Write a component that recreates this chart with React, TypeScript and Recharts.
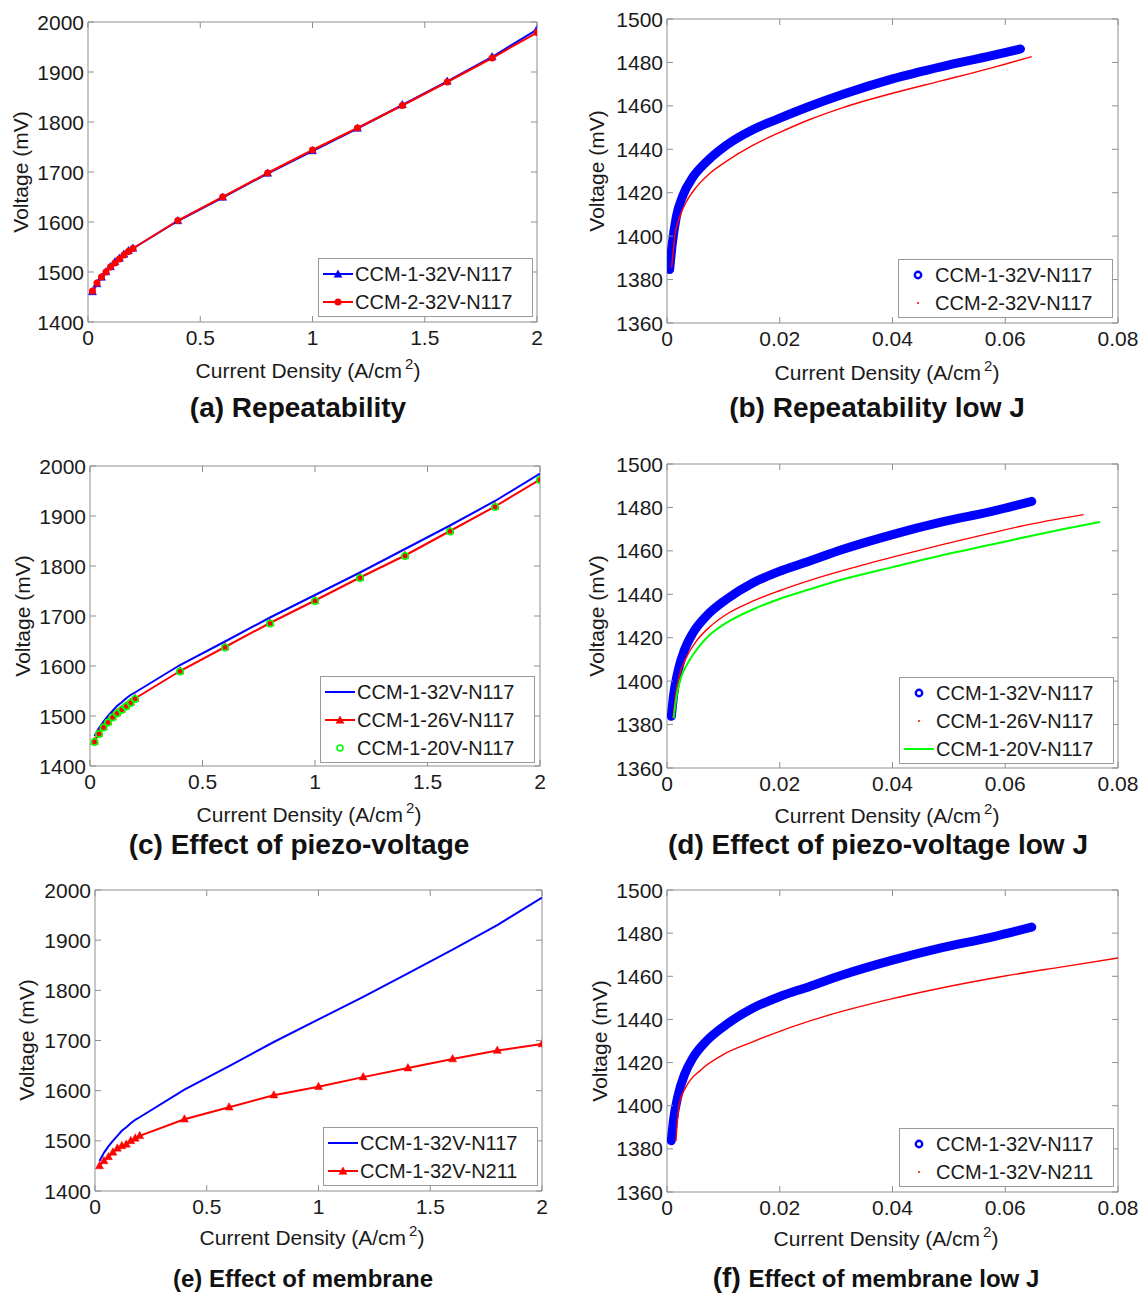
import React from 'react';
import { ComposedChart, Line, XAxis, YAxis, ReferenceArea, Legend } from 'recharts';

const FONT = '"Liberation Sans", Arial, Helvetica, sans-serif';
const AXIS = '#8f8f8f';
const TXT = '#1a1a1a';
const BLUE = '#0000ff';
const RED = '#ff0000';
const GREEN = '#00ff00';

// ---------- high current density data (A/cm2, mV) ----------
const J_HIGH = [0.02, 0.04, 0.06, 0.08, 0.1, 0.12, 0.14, 0.16, 0.18, 0.2, 0.4, 0.6, 0.8, 1.0, 1.2, 1.4, 1.6, 1.8, 2.0];
const V_CCM1_32V_N117 = [1460, 1476, 1489, 1500, 1510, 1520, 1527, 1535, 1542, 1547, 1602, 1649, 1697, 1742, 1787, 1834, 1881, 1930, 1985];
const V_CCM2_32V_N117 = [1462, 1478, 1490, 1500, 1510, 1518, 1526, 1534, 1541, 1547, 1603, 1650, 1698, 1744, 1788, 1833, 1880, 1928, 1979];
const V_CCM1_26V_N117 = [1449, 1465, 1478, 1488, 1498, 1506, 1513, 1520, 1527, 1535, 1590, 1638, 1686, 1731, 1777, 1821, 1870, 1919, 1973];
const V_CCM1_20V_N117 = [1448, 1464, 1477, 1487, 1497, 1505, 1512, 1519, 1526, 1534, 1589, 1637, 1685, 1730, 1776, 1820, 1869, 1918, 1972];
const V_CCM1_32V_N211 = [1450, 1460, 1468, 1477, 1485, 1490, 1493, 1500, 1505, 1510, 1543, 1567, 1591, 1608, 1627, 1645, 1663, 1680, 1693];

// ---------- low current density data ----------
// (b) Repeatability low J
const J_B_CCM1 = [0.00047, 0.00094, 0.00165, 0.00283, 0.0046, 0.00695, 0.0105, 0.0152, 0.0197, 0.0252, 0.0311, 0.04, 0.0488, 0.0576, 0.0627];
const V_B_CCM1 = [1384.6, 1396.6, 1408.8, 1418.8, 1427.2, 1434.1, 1441.8, 1449, 1454, 1459.7, 1465.2, 1472.4, 1478.1, 1483.1, 1486.2];
const J_B_CCM2 = [0.00083, 0.00136, 0.00224, 0.0034, 0.0052, 0.0075, 0.0105, 0.0152, 0.0197, 0.0252, 0.0311, 0.04, 0.0488, 0.0576, 0.0647];
const V_B_CCM2 = [1385.5, 1399.6, 1408.8, 1415.7, 1422.6, 1428.7, 1434.4, 1441.8, 1447.4, 1453.6, 1459.1, 1465.8, 1471.6, 1477.5, 1482.7];
// (d) and (f): CCM-1-32V-N117 low J
const J_LOW_32V_N117 = [0.00077, 0.00118, 0.00195, 0.00312, 0.0046, 0.00695, 0.0105, 0.0152, 0.0197, 0.0252, 0.0311, 0.04, 0.0488, 0.0576, 0.0647];
const V_LOW_32V_N117 = [1383.8, 1393.8, 1404.6, 1414.5, 1422.2, 1429.9, 1437.6, 1445.2, 1450.3, 1455.2, 1460.6, 1467.5, 1473.3, 1478.2, 1482.8];
// (d) Effect of piezo-voltage low J
const J_D_26V = [0.00106, 0.00153, 0.00224, 0.0034, 0.0052, 0.0075, 0.0105, 0.0152, 0.0197, 0.0252, 0.0311, 0.04, 0.0488, 0.0576, 0.0647, 0.0739];
const V_D_26V = [1383.1, 1393.8, 1403, 1410.7, 1418.4, 1424.8, 1430.7, 1436.8, 1441.4, 1446.3, 1450.9, 1457.1, 1462.9, 1468.3, 1472.4, 1476.7];
const J_D_20V = [0.00118, 0.00165, 0.00236, 0.00371, 0.0055, 0.0075, 0.0105, 0.0152, 0.0197, 0.0252, 0.0311, 0.04, 0.0488, 0.0576, 0.0647, 0.0768];
const V_D_20V = [1382.8, 1392.3, 1400.7, 1408.4, 1415.3, 1421.1, 1426.8, 1433, 1437.6, 1442.2, 1446.8, 1452.5, 1458, 1462.9, 1467, 1473.3];
// (f) Effect of membrane low J
const J_F_N211 = [0.0016, 0.0018, 0.0022, 0.0034, 0.006, 0.0099, 0.0151, 0.02, 0.0281, 0.0398, 0.0476, 0.0597, 0.0704, 0.08];
const V_F_N211 = [1383.7, 1391.8, 1401.1, 1408.8, 1416.6, 1423.6, 1429.5, 1434.5, 1441.5, 1449.5, 1454, 1460, 1464.5, 1468.5];

// ---------- axes ticks ----------
const X_TICKS_HIGH = [0, 0.5, 1, 1.5, 2];
const Y_TICKS_HIGH = [1400, 1500, 1600, 1700, 1800, 1900, 2000];
const X_TICKS_LOW = [0, 0.02, 0.04, 0.06, 0.08];
const Y_TICKS_LOW = [1360, 1380, 1400, 1420, 1440, 1460, 1480, 1500];

type Pt = { j: number; v: number };
const zip = (j: number[], v: number[]): Pt[] => j.map((x, i) => ({ j: x, v: v[i] }));

type Kind = 'line' | 'lineTri' | 'lineDot' | 'ring' | 'band' | 'thin';
type Series = { name: string; pts: Pt[]; color: string; kind: Kind };
type TitleSeg = { text: string; size: number };
type PanelCfg = {
  id: string;
  box: [number, number, number, number];
  plot: [number, number, number, number];
  xDomain: [number, number];
  xTicks: number[];
  yDomain: [number, number];
  yTicks: number[];
  series: Series[];
  title: TitleSeg[];
  titlePos: [number, number];
  xLabelPos: [number, number];
  yLabelPos: [number, number];
  legend: [number, number, number, number];
  smooth: boolean;
};

const PANELS: PanelCfg[] = [
  {
    id: 'a', box: [0, 0, 572, 435], plot: [88, 22, 537, 322],
    xDomain: [0, 2], xTicks: X_TICKS_HIGH, yDomain: [1400, 2000], yTicks: Y_TICKS_HIGH,
    series: [
      { name: 'CCM-1-32V-N117', pts: zip(J_HIGH, V_CCM1_32V_N117), color: BLUE, kind: 'lineTri' },
      { name: 'CCM-2-32V-N117', pts: zip(J_HIGH, V_CCM2_32V_N117), color: RED, kind: 'lineDot' },
    ],
    title: [{ text: '(a) Repeatability', size: 28 }], titlePos: [298, 417],
    xLabelPos: [308, 378], yLabelPos: [20, 172], legend: [318, 258, 215, 59], smooth: false,
  },
  {
    id: 'b', box: [573, 0, 572, 435], plot: [667, 19, 1118, 323],
    xDomain: [0, 0.08], xTicks: X_TICKS_LOW, yDomain: [1360, 1500], yTicks: Y_TICKS_LOW,
    series: [
      { name: 'CCM-1-32V-N117', pts: zip(J_B_CCM1, V_B_CCM1), color: BLUE, kind: 'band' },
      { name: 'CCM-2-32V-N117', pts: zip(J_B_CCM2, V_B_CCM2), color: RED, kind: 'thin' },
    ],
    title: [{ text: '(b) Repeatability low J', size: 28 }], titlePos: [877, 417],
    xLabelPos: [887, 380], yLabelPos: [596, 171], legend: [898, 259, 215, 59], smooth: true,
  },
  {
    id: 'c', box: [0, 440, 572, 430], plot: [90, 466, 540, 766],
    xDomain: [0, 2], xTicks: X_TICKS_HIGH, yDomain: [1400, 2000], yTicks: Y_TICKS_HIGH,
    series: [
      { name: 'CCM-1-32V-N117', pts: zip(J_HIGH, V_CCM1_32V_N117), color: BLUE, kind: 'line' },
      { name: 'CCM-1-26V-N117', pts: zip(J_HIGH, V_CCM1_26V_N117), color: RED, kind: 'lineTri' },
      { name: 'CCM-1-20V-N117', pts: zip(J_HIGH, V_CCM1_20V_N117), color: GREEN, kind: 'ring' },
    ],
    title: [{ text: '(c) Effect of piezo-voltage', size: 28 }], titlePos: [299, 854],
    xLabelPos: [309, 822], yLabelPos: [22, 616], legend: [320, 676, 215, 87], smooth: false,
  },
  {
    id: 'd', box: [573, 440, 572, 430], plot: [667, 464, 1118, 768],
    xDomain: [0, 0.08], xTicks: X_TICKS_LOW, yDomain: [1360, 1500], yTicks: Y_TICKS_LOW,
    series: [
      { name: 'CCM-1-32V-N117', pts: zip(J_LOW_32V_N117, V_LOW_32V_N117), color: BLUE, kind: 'band' },
      { name: 'CCM-1-26V-N117', pts: zip(J_D_26V, V_D_26V), color: RED, kind: 'thin' },
      { name: 'CCM-1-20V-N117', pts: zip(J_D_20V, V_D_20V), color: GREEN, kind: 'line' },
    ],
    title: [{ text: '(d) Effect of piezo-voltage low J', size: 28 }], titlePos: [878, 854],
    xLabelPos: [887, 823], yLabelPos: [596, 616], legend: [899, 677, 215, 87], smooth: true,
  },
  {
    id: 'e', box: [0, 870, 572, 425], plot: [95, 890, 542, 1191],
    xDomain: [0, 2], xTicks: X_TICKS_HIGH, yDomain: [1400, 2000], yTicks: Y_TICKS_HIGH,
    series: [
      { name: 'CCM-1-32V-N117', pts: zip(J_HIGH, V_CCM1_32V_N117), color: BLUE, kind: 'line' },
      { name: 'CCM-1-32V-N211', pts: zip(J_HIGH, V_CCM1_32V_N211), color: RED, kind: 'lineTri' },
    ],
    title: [{ text: '(e) Effect of membrane', size: 24 }], titlePos: [303, 1287],
    xLabelPos: [312, 1245], yLabelPos: [26, 1040], legend: [323, 1127, 215, 59], smooth: false,
  },
  {
    id: 'f', box: [573, 870, 572, 425], plot: [667, 890, 1118, 1192],
    xDomain: [0, 0.08], xTicks: X_TICKS_LOW, yDomain: [1360, 1500], yTicks: Y_TICKS_LOW,
    series: [
      { name: 'CCM-1-32V-N117', pts: zip(J_LOW_32V_N117, V_LOW_32V_N117), color: BLUE, kind: 'band' },
      { name: 'CCM-1-32V-N211', pts: zip(J_F_N211, V_F_N211), color: RED, kind: 'thin' },
    ],
    title: [{ text: '(f) ', size: 28 }, { text: 'Effect of membrane low J', size: 24 }], titlePos: [876, 1287],
    xLabelPos: [886, 1246], yLabelPos: [599, 1041], legend: [899, 1128, 215, 59], smooth: true,
  },
];

const tri = (cx: number, cy: number, color: string, key?: any) => (
  <polygon key={key} points={`${cx},${cy - 4.5} ${cx - 4},${cy + 2.8} ${cx + 4},${cy + 2.8}`} fill={color} stroke={color} strokeWidth={0.5} />
);

const LegendIcon = ({ s }: { s: Series }) => {
  const c = s.color;
  return (
    <svg width={36} height={28} style={{ flex: '0 0 36px' }}>
      {(s.kind === 'line' || s.kind === 'lineTri' || s.kind === 'lineDot') && (
        <line x1={4} x2={34} y1={14} y2={14} stroke={c} strokeWidth={2} />
      )}
      {s.kind === 'lineTri' && tri(19, 14.5, c)}
      {s.kind === 'lineDot' && <circle cx={19} cy={14} r={3.5} fill={c} />}
      {s.kind === 'ring' && <circle cx={19} cy={14} r={3} fill="none" stroke={c} strokeWidth={1.6} />}
      {s.kind === 'band' && <circle cx={19} cy={14} r={3.2} fill="none" stroke={c} strokeWidth={2.4} />}
      {s.kind === 'thin' && <circle cx={19} cy={14} r={1} fill={c} />}
    </svg>
  );
};

const LegendBox = ({ series, w, h }: { series: Series[]; w: number; h: number }) => (
  <div
    style={{
      boxSizing: 'border-box', width: w, height: h, border: '1px solid #9a9a9a', background: '#fff',
      paddingTop: 1, fontFamily: FONT, fontSize: 20, color: TXT,
    }}
  >
    {series.map((s) => (
      <div key={s.name} style={{ display: 'flex', alignItems: 'center', height: 28, whiteSpace: 'nowrap' }}>
        <LegendIcon s={s} />
        <span style={{ lineHeight: '28px' }}>{s.name}</span>
      </div>
    ))}
  </div>
);

const XLabels = ({ lx, ly, tx, ty, title }: { lx: number; ly: number; tx: number; ty: number; title: TitleSeg[] }) => (
  <g>
    <text x={lx} y={ly} textAnchor="middle" fontFamily={FONT} fontSize={21} fill={TXT}>
      <tspan>Current Density (A/cm</tspan>
      <tspan dx={3} dy={-9} fontSize={15}>2</tspan>
      <tspan dy={9}>)</tspan>
    </text>
    <text x={tx} y={ty} textAnchor="middle" fontFamily={FONT} fontWeight="bold" fill="#111">
      {title.map((t, i) => (
        <tspan key={i} fontSize={t.size}>{t.text}</tspan>
      ))}
    </text>
  </g>
);

const YLabelEl = ({ lx, ly }: { lx: number; ly: number }) => (
  <text
    x={lx} y={ly} transform={`rotate(-90 ${lx} ${ly})`} textAnchor="middle" dominantBaseline="central"
    fontFamily={FONT} fontSize={21} fill={TXT}
  >
    Voltage (mV)
  </text>
);

const Panel = ({ cfg }: { cfg: PanelCfg }) => {
  const [bx, by, bw, bh] = cfg.box;
  const [pl, pt, pr, pb] = cfg.plot;
  const YW = 40;
  const XH = 20;
  const plotW = pr - pl;
  const plotH = pb - pt;
  const margin = { top: pt - by, left: pl - bx - YW, right: bx + bw - pr, bottom: by + bh - pb - XH };

  const xTick = (props: any) => {
    const { x, y, payload } = props;
    return (
      <g>
        <line x1={x} x2={x} y1={y} y2={y - 6} stroke={AXIS} />
        <line x1={x} x2={x} y1={y - plotH} y2={y - plotH + 6} stroke={AXIS} />
        <text x={x} y={y + 23} textAnchor="middle" fontFamily={FONT} fontSize={21} fill={TXT}>
          {String(payload.value)}
        </text>
      </g>
    );
  };
  const yTick = (props: any) => {
    const { x, y, payload } = props;
    return (
      <g>
        <line x1={x} x2={x + 6} y1={y} y2={y} stroke={AXIS} />
        <line x1={x + plotW} x2={x + plotW - 6} y1={y} y2={y} stroke={AXIS} />
        <text x={x - 4} y={y + 7.5} textAnchor="end" fontFamily={FONT} fontSize={21} fill={TXT}>
          {String(payload.value)}
        </text>
      </g>
    );
  };

  const [lgx, lgy, lgw, lgh] = cfg.legend;

  return (
    <div style={{ position: 'absolute', left: bx, top: by, width: bw, height: bh }}>
      <ComposedChart width={bw} height={bh} margin={margin}>
        <XAxis
          type="number" dataKey="j" domain={cfg.xDomain} ticks={cfg.xTicks} interval={0} allowDataOverflow
          tickLine={false} axisLine={false} tickSize={0} tickMargin={0} height={XH} tick={xTick}
          label={
            <XLabels
              lx={cfg.xLabelPos[0] - bx} ly={cfg.xLabelPos[1] - by}
              tx={cfg.titlePos[0] - bx} ty={cfg.titlePos[1] - by} title={cfg.title}
            />
          }
        />
        <YAxis
          type="number" dataKey="v" domain={cfg.yDomain} ticks={cfg.yTicks} interval={0} allowDataOverflow
          tickLine={false} axisLine={false} tickSize={0} tickMargin={0} width={YW} tick={yTick}
          label={<YLabelEl lx={cfg.yLabelPos[0] - bx} ly={cfg.yLabelPos[1] - by} />}
        />
        <ReferenceArea
          x1={cfg.xDomain[0]} x2={cfg.xDomain[1]} y1={cfg.yDomain[0]} y2={cfg.yDomain[1]}
          fill="none" fillOpacity={0} stroke={AXIS} strokeWidth={1} ifOverflow="visible"
        />
        {cfg.series.map((s) => {
          const common = {
            key: s.name, data: s.pts, dataKey: 'v', name: s.name, isAnimationActive: false,
            type: (cfg.smooth ? 'monotone' : 'linear') as any,
          };
          if (s.kind === 'band') {
            return (
              <Line {...common} stroke={s.color} strokeWidth={9} strokeLinecap="round" strokeLinejoin="round" dot={false} activeDot={false} />
            );
          }
          if (s.kind === 'thin') {
            return <Line {...common} stroke={s.color} strokeWidth={1.4} dot={false} activeDot={false} />;
          }
          if (s.kind === 'line') {
            return <Line {...common} stroke={s.color} strokeWidth={2} dot={false} activeDot={false} />;
          }
          if (s.kind === 'lineTri') {
            return (
              <Line
                {...common} stroke={s.color} strokeWidth={2} activeDot={false}
                dot={(p: any) => tri(p.cx, p.cy, s.color, `t-${p.index}`)}
              />
            );
          }
          if (s.kind === 'lineDot') {
            return (
              <Line
                {...common} stroke={s.color} strokeWidth={2} activeDot={false}
                dot={(p: any) => <circle key={`d-${p.index}`} cx={p.cx} cy={p.cy} r={3.5} fill={s.color} />}
              />
            );
          }
          return (
            <Line
              {...common} stroke="none" strokeWidth={0} activeDot={false}
              dot={(p: any) => (
                <circle key={`r-${p.index}`} cx={p.cx} cy={p.cy} r={3.2} fill="none" stroke={s.color} strokeWidth={1.6} />
              )}
            />
          );
        })}
        <Legend
          layout="horizontal" verticalAlign="middle" align="center"
          wrapperStyle={{ left: lgx - bx, top: lgy - by, width: lgw, height: lgh, right: 'auto', bottom: 'auto' }}
          content={() => <LegendBox series={cfg.series} w={lgw} h={lgh} />}
        />
      </ComposedChart>
    </div>
  );
}

export default function App() {
  return (
    <div style={{ position: 'absolute', left: 0, top: 0, width: 1145, height: 1295, background: '#fff', overflow: 'hidden' }}>
      {PANELS.map((p) => (
        <Panel key={p.id} cfg={p} />
      ))}
    </div>
  );
}
